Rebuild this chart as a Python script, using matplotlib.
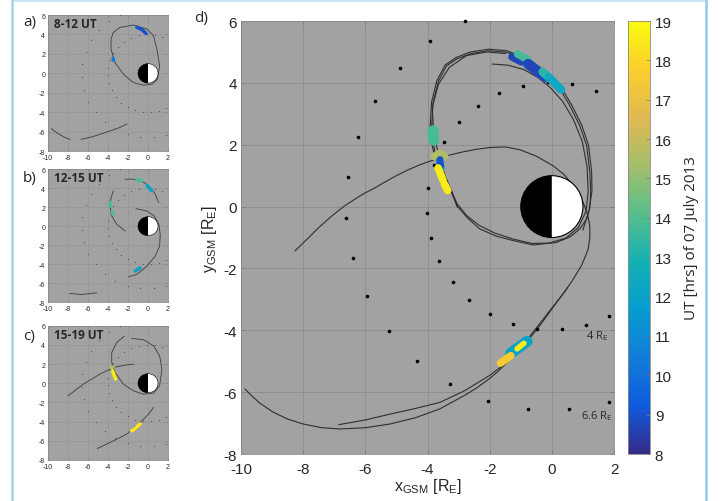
"""Orbit overview plot: three small UT panels and one combined panel.
"""

import numpy as np
import matplotlib
matplotlib.use('Agg')
import matplotlib.pyplot as plt
from matplotlib.patches import Wedge, Circle
from matplotlib.colors import LinearSegmentedColormap, Normalize
from matplotlib.cm import ScalarMappable
from matplotlib.lines import Line2D

plt.rcParams['font.family'] = ['Liberation Sans', 'DejaVu Sans']
plt.rcParams['axes.unicode_minus'] = False

# ---------------- data ----------------
earth_r = 1.0

# reference points (4 R_E and 6.6 R_E rings)
dots_x = [-2.78, -3.92, -4.90, -5.68, -6.25, -6.57, -6.62, -6.41, -5.96, -5.24,
          -4.35, -3.27, -2.05, -0.76, 0.55, 1.84,
          -4.00, -4.03, -3.90, -3.79, -3.46, -2.98, -2.39, -1.69, -0.94, -0.14,
          0.65, 1.41, -3.62, -3.19, -2.66, -1.99, -1.26, -0.47, 0.32, 1.09, 1.84]
dots_y = [6.00, 5.36, 4.48, 3.42, 2.24, 0.95, -0.37, -1.67, -2.90, -4.02,
          -4.98, -5.75, -6.28, -6.55, -6.55, -6.33,
          0.59, -0.21, -1.00, 1.35, 2.08, 2.72, 3.26, 3.66, 3.91, 4.04,
          3.96, 3.75, -1.76, -2.43, -3.02, -3.47, -3.80, -3.96, -3.96, -3.83, -3.53]

# panel d: orbit tracks
big_x = [-8.26, -7.85, -7.50, -7.10, -6.70, -6.35, -6.05, -5.70, -5.40, -5.00,
         -4.60, -4.20, -3.80, -3.35, -2.90, -2.45, -2.00, -1.50, -1.03, -0.50,
         0.04, 0.40, 0.69, 0.90, 1.05, 1.16, 1.22, 1.22, 1.17, 1.06, 0.95, 0.69,
         0.45, 0.15, -0.12, -0.39, -0.65, -0.92, -1.20, -1.45, -1.70, -1.99,
         -2.40, -2.80, -3.60, -4.40, -5.21, -6.00, -6.82, -7.40, -8.00, -8.50,
         -8.96, -9.40, -9.65, -9.87]
big_y = [-1.43, -1.03, -0.68, -0.32, 0.00, 0.23, 0.42, 0.60, 0.78, 1.00,
         1.20, 1.37, 1.51, 1.65, 1.76, 1.85, 1.91, 1.93, 1.84, 1.63,
         1.32, 1.03, 0.67, 0.35, 0.03, -0.30, -0.62, -1.00, -1.37, -1.65, -1.91,
         -2.34, -2.70, -3.10, -3.48, -3.85, -4.18, -4.50, -4.80, -5.05, -5.30,
         -5.55, -5.85, -6.10, -6.54, -6.83, -7.03, -7.15, -7.19, -7.15, -7.03,
         -6.87, -6.65, -6.35, -6.12, -5.90]

inner_x = [-6.85, -6.00, -5.21, -4.40, -3.60, -2.80, -1.99, -1.40, -0.92, -0.45,
           0.00, 0.30, 0.50]
inner_y = [-7.05, -6.90, -6.71, -6.53, -6.33, -5.95, -5.45, -5.00, -4.46, -3.86,
           -3.28, -2.90, -2.62]

loop1_x = [1.00, 1.20, 1.29, 1.28, 1.18, 0.96, 0.63, 0.30, -0.25, -0.63, -1.02,
           -1.46, -2.03, -2.62, -3.08, -3.43, -3.70, -3.87, -3.92, -3.87, -3.80,
           -3.62, -3.38, -3.03]
loop1_y = [-0.75, -0.10, 0.50, 1.12, 1.98, 2.64, 3.30, 3.85, 4.35, 4.64, 4.88,
           5.04, 5.09, 5.00, 4.82, 4.58, 4.07, 3.38, 2.51, 2.08, 1.74, 1.27, 0.82,
           -0.02]

loop2_x = [-3.06, -2.70, -2.32, -1.80, -1.24, -0.60, 0.15, 0.60, 0.90, 1.12, 1.22,
           1.25, 1.22, 1.12, 0.90, 0.58, 0.26, -0.28, -0.65, -1.03, -1.46, -2.03,
           -2.60, -3.05, -3.39, -3.65, -3.82, -3.87, -3.82, -3.76, -3.60, -3.39,
           -3.20, -3.06]
loop2_y = [0.03, -0.38, -0.72, -0.95, -1.10, -1.24, -1.16, -0.97, -0.72, -0.40,
           -0.05, 0.50, 1.11, 1.97, 2.61, 3.26, 3.80, 4.29, 4.58, 4.83, 4.99, 5.04,
           4.95, 4.78, 4.55, 4.05, 3.37, 2.51, 2.10, 1.76, 1.30, 0.89, 0.45, 0.03]

loop3_x = [-1.91, -1.40, -0.90, -0.45, -0.05, 0.35, 0.70, 0.98, 1.13, 1.17, 1.10,
           0.85, 0.45, -0.10, -0.65, -1.25, -1.85, -2.35, -2.75, -3.05, -3.35,
           -3.62, -3.80, -3.85, -3.65, -3.30, -2.75, -2.10, -1.50]
loop3_y = [4.61, 4.57, 4.43, 4.18, 3.85, 3.40, 2.80, 2.10, 1.30, 0.50, -0.15,
           -0.68, -1.02, -1.18, -1.19, -1.05, -0.85, -0.60, -0.28, 0.10, 0.75,
           1.55, 2.40, 3.20, 3.95, 4.50, 4.88, 5.00, 4.95]

# panel d: UT-coloured intervals
d_seg_x = [[-1.28, -0.98], [-1.10, -0.78], [-0.76, -0.23], [-0.30, -0.05],
           [-0.10, 0.30], [-3.82, -3.80], [-3.78, -3.62, -3.45], [-3.62, -3.55],
           [-3.60, -3.58], [-3.66, -3.50], [-3.45, -3.35], [-1.32, -0.80],
           [-1.12, -0.90], [-1.65, -1.32]]
d_seg_y = [[4.84, 4.68], [4.93, 4.76], [4.61, 4.20], [4.36, 4.13],
           [4.18, 3.78], [2.45, 2.15], [1.62, 1.72, 1.63], [1.45, 1.25],
           [1.52, 1.32], [1.25, 0.85], [0.72, 0.52], [-4.74, -4.36],
           [-4.60, -4.42], [-5.06, -4.82]]
d_seg_ut = [8.7, 13.8, 8.7, 13.3, 12.3, 13.8, 15.5, 12.5, 9.0, 18.6, 18.6, 12.0,
            18.6, 17.5]

# panel a (8-12 UT)
a_orb_x = [[-3.47, -2.80, -1.46, -0.12, 0.55, 0.89, 1.16, 0.95, 0.39, -0.45, -1.46,
            -2.46, -3.30, -3.70, -3.70, -3.47],
           [-9.66, -9.00, -8.30, -7.80],
           [-6.70, -5.50, -4.00, -2.90, -2.10]]
a_orb_y = [[4.21, 4.73, 4.97, 4.56, 3.87, 2.49, 0.77, -0.60, -1.12, -1.22, -0.95,
            -0.09, 1.12, 2.49, 3.52, 4.21],
           [-5.70, -6.20, -6.60, -6.80],
           [-6.80, -6.50, -6.00, -5.60, -5.20]]
a_seg_x = [[-1.12, -0.60, -0.20], [-3.50, -3.45]]
a_seg_y = [[4.75, 4.50, 4.10], [1.55, 1.35]]
a_seg_ut = [9.0, 10.3]

# panel b (12-15 UT)
b_orb_x = [[-2.29, -1.60, -0.95, -0.30, 0.22, 0.72, 1.06],
           [-3.47, -3.72, -3.80, -3.63, -3.13, -2.29],
           [-1.19, -0.12, 0.62, 1.09, 1.22, 1.16, 0.72, -0.12, -1.12, -1.96],
           [-7.82, -6.65, -5.14]]
b_orb_y = [[4.94, 4.96, 4.87, 4.55, 4.07, 3.36, 2.48],
           [3.71, 2.90, 2.13, 1.08, 0.20, -0.51],
           [1.85, 1.60, 1.08, 0.20, -0.86, -2.09, -3.15, -4.20, -5.08, -5.33],
           [-7.08, -7.19, -7.01]]
b_seg_x = [[-1.10, -0.65], [-0.10, 0.35], [-3.82, -3.80], [-3.58, -3.50],
           [-1.28, -0.82]]
b_seg_y = [[4.88, 4.80], [4.30, 3.75], [2.50, 2.10], [1.55, 1.25], [-4.72, -4.40]]
b_seg_ut = [13.8, 12.0, 13.8, 14.0, 12.0]

# panel c (15-19 UT)
c_orb_x = [[-2.40, -3.13, -3.63, -3.63, -3.30, -2.46, -1.46, -0.45, 0.55, 1.16,
            1.39, 1.16, 0.55, -0.45, -1.62],
           [-7.99, -6.48, -4.81, -3.47, -2.13, -1.46],
           [-5.08, -3.80, -2.13, -0.79, 0.05, 0.55]]
c_orb_y = [[4.89, 4.26, 3.21, 2.17, 1.12, -0.10, -0.79, -1.14, -1.04, -0.27,
            1.47, 2.87, 3.91, 4.54, 4.68],
           [-1.31, -0.10, 0.95, 1.65, 1.92, 1.99],
           [-6.82, -6.19, -5.32, -4.10, -3.23, -2.53]]
c_seg_x = [[-3.70, -3.50], [-3.55, -3.25], [-1.63, -1.29], [-1.12, -0.79]]
c_seg_y = [[1.65, 1.68], [1.30, 0.45], [-4.97, -4.73], [-4.55, -4.25]]
c_seg_ut = [15.8, 18.6, 18.4, 18.4]

ut_min, ut_max = 8, 19
x_ticks = np.arange(-10, 3, 2)
y_ticks = np.arange(-8, 7, 2)

# parula-like colormap
parula = LinearSegmentedColormap.from_list('parula', [
    (0.2081, 0.1663, 0.5292), (0.0591, 0.3598, 0.8683), (0.0723, 0.4887, 0.8467),
    (0.0265, 0.6137, 0.8135), (0.0843, 0.6928, 0.7062), (0.3482, 0.7424, 0.5473),
    (0.6473, 0.7456, 0.4188), (0.8824, 0.7274, 0.3217), (0.9880, 0.8066, 0.1794),
    (0.9763, 0.9831, 0.0538)])
norm = Normalize(ut_min, ut_max)

BG = '#a2a2a2'
LABEL_FONT = 'Open Sans'


def draw_earth(ax, lw):
    """Draw the day/night Earth disc at the origin."""
    ax.add_patch(Wedge((0, 0), earth_r, 90, 270, facecolor='black',
                       edgecolor='none', zorder=5))
    ax.add_patch(Wedge((0, 0), earth_r, -90, 90, facecolor='white',
                       edgecolor='none', zorder=5))
    ax.add_patch(Circle((0, 0), earth_r, facecolor='none', edgecolor='black',
                        lw=lw, zorder=6))


def setup_axes(ax, fs, tick_len):
    """Grey MATLAB-like axes with grid."""
    ax.set_facecolor(BG)
    ax.set_xlim(-10, 2)
    ax.set_ylim(-8, 6)
    ax.set_xticks(x_ticks)
    ax.set_yticks(y_ticks)
    ax.grid(True, color='#8c8c8c', lw=0.6)
    ax.set_axisbelow(True)
    ax.tick_params(direction='in', top=True, right=True, labelsize=fs,
                   length=tick_len, width=0.5, colors='#7a7a7a',
                   labelcolor='#262626', pad=2)
    for s in ax.spines.values():
        s.set_color('#8a8a8a')
        s.set_linewidth(0.6)


def draw_segments(ax, xs, ys, uts, widths):
    for x, y, ut, w in zip(xs, ys, uts, widths):
        ax.plot(x, y, color=parula(norm(ut)), lw=w, solid_capstyle='round',
                zorder=4)


fig = plt.figure(figsize=(7.23, 5.02), dpi=100)

# small panels
panels = [
    ([0.0664, 0.697, 0.166, 0.271], 'a)', '8-12 UT', a_orb_x, a_orb_y, a_seg_x, a_seg_y, a_seg_ut, 0.956),
    ([0.0664, 0.396, 0.166, 0.265], 'b)', '12-15 UT', b_orb_x, b_orb_y, b_seg_x, b_seg_y, b_seg_ut, 0.645),
    ([0.0664, 0.082, 0.166, 0.267], 'c)', '15-19 UT', c_orb_x, c_orb_y, c_seg_x, c_seg_y, c_seg_ut, 0.330),
]
for pos, tag, title, ox, oy, sx, sy, sut, ty in panels:
    ax = fig.add_axes(pos)
    setup_axes(ax, 5, 1.5)
    ax.grid(True, color='#939393', lw=0.4)
    for x, y in zip(ox, oy):
        ax.plot(x, y, color='#3c3c3c', lw=0.6, zorder=3)
    ax.plot(dots_x, dots_y, 'o', ms=0.9, color='#555555', mec='none', zorder=3)
    draw_segments(ax, sx, sy, sut, [2.5] * len(sx))
    draw_earth(ax, 0.4)
    ax.text(-9.45, 5.1, title, fontsize=8.5, fontweight='bold', color='#262626',
            family=LABEL_FONT, va='center', ha='left', zorder=7)
    fig.text(0.032, ty, tag, fontsize=11, family=LABEL_FONT, color='#262626',
             va='center')

# main panel
ax = fig.add_axes([0.3333, 0.0936, 0.516, 0.8625])
setup_axes(ax, 11, 3)
ax.tick_params(axis='x', pad=5.5)
ax.tick_params(axis='y', pad=3)
for x, y in [(big_x, big_y), (inner_x, inner_y), (loop1_x, loop1_y),
             (loop2_x, loop2_y), (loop3_x, loop3_y)]:
    ax.plot(x, y, color='#2e2e2e', lw=0.8, zorder=3)
ax.plot(dots_x, dots_y, 'o', ms=2.6, color='black', mec='none', zorder=3,
        clip_on=False)
d_lw = [5.5, 5.5, 7.5, 6, 6, 8, 5.5, 5, 5, 5.5, 5.5, 8, 4, 5.5]
draw_segments(ax, d_seg_x, d_seg_y, d_seg_ut, d_lw)
draw_earth(ax, 0.8)
ax.text(1.1, -4.17, r'4 R$_{\mathregular{E}}$', fontsize=8, family=LABEL_FONT,
        color='#262626', va='center', zorder=7)
ax.text(0.95, -6.74, r'6.6 R$_{\mathregular{E}}$', fontsize=8, family=LABEL_FONT,
        color='#262626', va='center', zorder=7)
ax.set_xlabel(r'x$_{\mathregular{GSM}}$ [R$_{\mathregular{E}}$]', fontsize=11.5,
              color='#262626', labelpad=0)
ax.set_ylabel(r'y$_{\mathregular{GSM}}$ [R$_{\mathregular{E}}$]', fontsize=11.5,
              color='#262626', labelpad=3)
fig.text(0.268, 0.963, 'd)', fontsize=11, family=LABEL_FONT, color='#262626',
         va='center')

# colour bar
cax = fig.add_axes([0.8686, 0.0936, 0.0304, 0.8625])
cb = fig.colorbar(ScalarMappable(norm=norm, cmap=parula), cax=cax,
                  ticks=range(ut_min, ut_max + 1))
cb.outline.set_edgecolor('#8a8a8a')
cb.outline.set_linewidth(0.6)
cax.tick_params(labelsize=11, direction='in', length=3, width=0.5,
                colors='#7a7a7a', labelcolor='#262626')
cb.set_label('UT [hrs] of 07 July 2013', fontsize=11, family=LABEL_FONT,
             color='#262626', labelpad=9)

# light-blue frame
fig.add_artist(Line2D([0.018, 0.977], [0.998, 0.998], color='#c6e7f4', lw=2))
fig.add_artist(Line2D([0.0166, 0.0166], [0.0, 0.998], color='#9ed6ec', lw=1.8))
fig.add_artist(Line2D([0.977, 0.977], [0.0, 0.998], color='#8fcde6', lw=1.8))

fig.savefig('out.png', dpi=100)
